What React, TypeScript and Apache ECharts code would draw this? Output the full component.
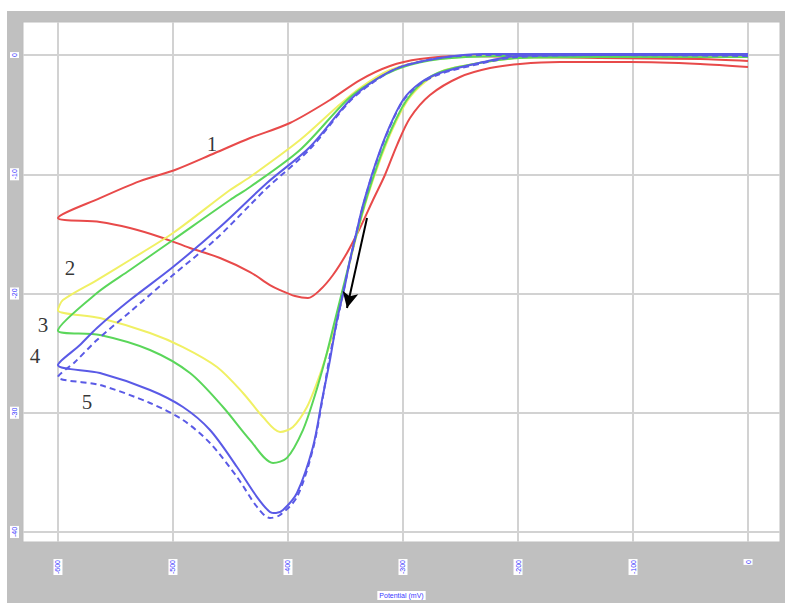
import React, { useEffect, useRef } from "react";
import * as echarts from "echarts";

// Axis ticks
const xTicks = [-600, -500, -400, -300, -200, -100, 0];
const yTicks = [0, -10, -20, -30, -40];
const xAxisTitle = "Potential (mV)";

// Curve 1 (red): cathodic sweep 0 -> -600, then return -600 -> 0
const curve1: [number, number][] = [
  [0, -1.01], [-41.7, -0.75], [-102.6, -0.59], [-163.5, -0.59], [-198.3, -0.75],
  [-224.3, -1.09], [-250.4, -1.84], [-276.5, -3.35], [-293.9, -5.28], [-305.2, -7.55],
  [-315.7, -10.06], [-326.1, -12.16], [-337.4, -14.51], [-348.7, -16.6], [-360.9, -18.45],
  [-372.2, -19.71], [-382.6, -20.38], [-393.9, -20.21], [-406.9, -19.71], [-415.7, -19.29],
  [-433, -18.2], [-459.1, -17.02], [-485.2, -16.18], [-511.3, -15.26], [-537.4, -14.51],
  [-563.5, -14.0], [-600, -13.67],
  [-563.5, -12.0], [-528.7, -10.57], [-498.3, -9.64], [-463.5, -8.22], [-433, -6.96],
  [-398.3, -5.7], [-363.5, -3.77], [-337.4, -2.1], [-311.3, -0.92], [-285.2, -0.34],
  [-250.4, -0.08], [-198.3, -0.17], [-128.7, -0.25], [-41.7, -0.34], [0, -0.5],
];

// Curve 2 (yellow)
const curve2: [number, number][] = [
  [0, -0.17], [-128.7, -0.17], [-198.3, -0.25], [-228.7, -0.59], [-263.5, -1.26],
  [-280.9, -2.26], [-295.7, -3.77], [-308.7, -6.12], [-320.0, -8.81], [-330.4, -11.74],
  [-339.1, -14.68], [-347.8, -18.03], [-356.5, -21.8], [-365.2, -24.74], [-373.9, -27.25],
  [-383.5, -29.52], [-395.7, -31.19], [-406.9, -31.61], [-421.7, -30.36], [-439.1, -28.34],
  [-461.7, -26.16], [-491.3, -24.49], [-520.0, -23.31], [-563.5, -22.05], [-600, -21.4],
  [-595.7, -20.55], [-566.1, -18.87], [-537.4, -17.19], [-500.0, -14.93], [-450.4, -11.32],
  [-433.0, -10.23], [-389.6, -7.13], [-357.4, -4.36], [-337.4, -2.77], [-311.3, -1.26],
  [-276.5, -0.42], [-233.0, -0.08], [-163.5, 0], [0, 0],
];

// Curve 3 (green)
const curve3: [number, number][] = [
  [0, -0.17], [-128.7, -0.17], [-198.3, -0.25], [-228.7, -0.59], [-265.2, -1.34],
  [-282.6, -2.26], [-297.4, -3.86], [-310.4, -6.29], [-321.7, -9.06], [-332.2, -12.16],
  [-341.7, -15.51], [-350.4, -18.87], [-359.1, -22.22], [-367.8, -25.58], [-376.5, -28.51],
  [-387.0, -31.45], [-400.9, -33.79], [-413.0, -34.21], [-433.0, -32.29], [-456.5, -29.52],
  [-485.2, -26.67], [-520.0, -24.74], [-563.5, -23.48], [-600, -23.1],
  [-566.1, -19.96], [-537.4, -18.03], [-500.0, -15.51], [-450.4, -12.16], [-433.0, -11.07],
  [-389.6, -7.97], [-348.7, -3.77], [-328.7, -2.35], [-302.6, -1.09], [-267.8, -0.34],
  [-215.7, -0.08], [0, 0],
];

// Curve 4 (blue, solid)
const curve4: [number, number][] = [
  [0, 0], [-128.7, 0], [-200.9, -0.08], [-230.4, -0.59], [-267.8, -1.51],
  [-285.2, -2.35], [-300.0, -3.77], [-313.0, -6.29], [-324.3, -9.22], [-334.8, -12.58],
  [-340.0, -14.68], [-346.1, -17.19], [-351.3, -19.71], [-357.4, -22.22], [-363.5, -25.58],
  [-370.4, -28.93], [-378.3, -32.87], [-392.2, -36.73], [-404.3, -38.16], [-410.4, -38.41],
  [-415.7, -38.32], [-426.9, -37.07], [-444.3, -34.55], [-467.8, -31.45], [-491.3, -29.52],
  [-520.0, -28.09], [-563.5, -26.67], [-600, -26.0],
  [-580.9, -24.32], [-566.1, -22.89], [-537.4, -20.55], [-500.0, -17.78], [-459.1, -14.42],
  [-418.3, -10.73], [-380.9, -7.71], [-346.1, -3.77], [-324.3, -2.1], [-302.6, -1.01],
  [-267.8, -0.25], [-230.4, 0.08], [-128.7, 0.08], [0, 0.08],
];

// Curve 5 (blue, dashed)
const curve5: [number, number][] = [
  [0, -0.08], [-128.7, 0], [-200.9, -0.17], [-230.4, -0.67], [-267.8, -1.59],
  [-285.2, -2.43], [-300.0, -3.86], [-313.0, -6.37], [-324.3, -9.31], [-334.8, -12.66],
  [-346.1, -17.27], [-357.4, -22.39], [-364.3, -25.58], [-370.4, -29.1], [-378.3, -33.04],
  [-392.2, -37.07], [-406.9, -38.57], [-415.7, -38.83], [-426.9, -37.9], [-444.3, -35.39],
  [-467.8, -32.54], [-491.3, -30.61], [-520.0, -29.18], [-563.5, -27.67], [-600, -27.0],
  [-585.2, -25.74], [-566.1, -23.9], [-537.4, -21.55], [-500.0, -18.45], [-463.5, -15.51],
  [-433.0, -12.58], [-418.3, -11.15], [-380.9, -7.88], [-346.1, -3.86], [-324.3, -2.18],
  [-302.6, -1.01], [-267.8, -0.25], [-230.4, 0], [0, 0],
];

// Curve number annotations and the arrow (data coordinates)
const annotText = ["1", "2", "3", "4", "5"];
const annotX = [-466, -589.6, -613, -620, -574.8];
const annotY = [-7.5, -17.9, -22.6, -25.2, -29.1];
const arrowFrom: [number, number] = [-331.3, -13.67];
const arrowTo: [number, number] = [-348.7, -21.22];

const curveColors = ["#e84a4a", "#f0f064", "#5ad65a", "#5a5ae6", "#5a5ae6"];

export default function App() {
  const ref = useRef<HTMLDivElement>(null);
  useEffect(() => {
    document.body.style.margin = "0";
    if (!ref.current) return;
    const chart = echarts.init(ref.current, undefined, { renderer: "svg" });
    const curves = [curve1, curve2, curve3, curve4, curve5];
    const lineSeries = curves.map((c, i) => ({
      type: "line",
      name: annotText[i],
      data: c,
      showSymbol: false,
      smooth: 0.3,
      clip: false,
      lineStyle: {
        color: curveColors[i],
        width: 2,
        type: i === 4 ? [6, 4] : "solid",
      },
      itemStyle: { color: curveColors[i] },
      z: 3,
    }));
    const tickLabel = {
      rotate: 90,
      color: "#3a3aff",
      fontSize: 7,
      fontFamily: "Liberation Sans",
      backgroundColor: "#ffffff",
      padding: [1, 1],
    };
    chart.setOption({
      animation: false,
      backgroundColor: "#c0c0c0",
      grid: {
        left: 16,
        right: 5,
        top: 11,
        bottom: 61,
        outerBoundsMode: "none",
        containLabel: false,
        show: true,
        backgroundColor: "#ffffff",
        borderColor: "#bdbdbd",
        borderWidth: 1,
      },
      xAxis: {
        type: "value",
        min: -630.4,
        max: 27.8,
        name: xAxisTitle,
        nameLocation: "middle",
        nameGap: 49,
        nameTextStyle: {
          color: "#3a3aff",
          fontSize: 7,
          fontFamily: "Liberation Sans",
          backgroundColor: "#ffffff",
          padding: [1, 2],
        },
        axisLine: { show: false },
        axisTick: { show: false, customValues: xTicks },
        axisLabel: { ...tickLabel, margin: 17, customValues: xTicks, formatter: (v: number) => String(v) },
        splitLine: { show: true, lineStyle: { color: "#d2d2d2", width: 2 } },
      },
      yAxis: {
        type: "value",
        min: -40.84,
        max: 2.77,
        axisLine: { show: false },
        axisTick: { show: false, customValues: yTicks },
        axisLabel: { ...tickLabel, margin: 4, customValues: yTicks, formatter: (v: number) => String(v) },
        splitLine: { show: true, lineStyle: { color: "#d2d2d2", width: 2 } },
      },
      series: [
        ...lineSeries,
        {
          type: "scatter",
          data: annotX.map((x, i) => [x, annotY[i]]),
          symbolSize: 0,
          clip: false,
          label: {
            show: true,
            position: "inside",
            formatter: (p: any) => annotText[p.dataIndex],
            color: "#000000",
            fontSize: 21,
            fontFamily: "Liberation Serif",
          },
          markLine: {
            silent: true,
            symbol: ["none", "arrow"],
            symbolSize: [12, 16],
            label: { show: false },
            lineStyle: { color: "#000000", width: 2, type: "solid" },
            data: [[{ coord: arrowFrom }, { coord: arrowTo }]],
          },
          z: 5,
        },
      ],
    } as any);
    return () => chart.dispose();
  }, []);
  return (
    <div style={{ width: 785, height: 603, background: "#ffffff", position: "relative" }}>
      <div
        ref={ref}
        style={{ position: "absolute", left: 7, top: 11, width: 778, height: 592 }}
      />
    </div>
  );
}
